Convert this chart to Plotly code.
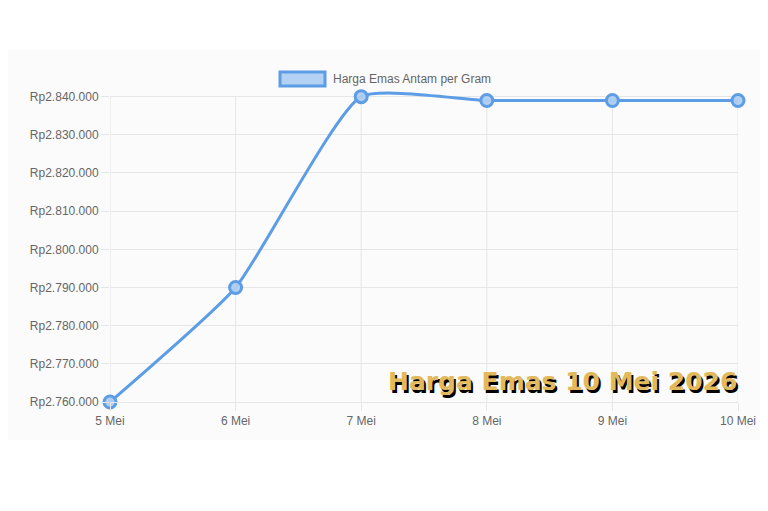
import plotly.graph_objects as go

dates = ["5 Mei", "6 Mei", "7 Mei", "8 Mei", "9 Mei", "10 Mei"]
prices = [2760000, 2790000, 2840000, 2839000, 2839000, 2839000]
ytick_vals = [2760000, 2770000, 2780000, 2790000, 2800000, 2810000, 2820000, 2830000, 2840000]
ytick_text = ["Rp" + f"{v:,}".replace(",", ".") for v in ytick_vals]
series_name = "Harga Emas Antam per Gram"
title_text = "Harga Emas 10 Mei 2026"

OFF = 8  # page body margin
W, H = 768 - OFF, 511 - OFF
y_lo, y_hi = 2760000, 2842000
scale = 305 / 80000  # px per unit
ph = round((y_hi - y_lo) * scale)
L = 110 - OFF
R = 30
B = 109
T = H - B - ph
pw = W - L - R

def px(x):
    return (x - OFF - L) / pw

def py(y):
    return (H - B - (y - OFF)) / ph

blue = "#5c9de6"
grid = "#e6e6e6"

fig = go.Figure()
fig.add_trace(go.Scatter(
    x=dates, y=prices, mode="lines+markers", name=series_name,
    line=dict(color=blue, width=3, shape="spline", smoothing=0.5),
    marker=dict(size=12, color="rgba(175,205,240,0.95)", line=dict(color=blue, width=3)),
    cliponaxis=False, showlegend=False,
))

font_axis = dict(family="Liberation Sans, Arial", size=12, color="#666666")

shapes = [
    dict(type="rect", xref="paper", yref="paper", layer="below",
         x0=px(0), x1=px(768), y0=py(50), y1=py(440),
         fillcolor="#fbfbfb", line=dict(width=0)),
]
for d in dates:
    shapes.append(dict(type="line", xref="x", yref="paper", layer="below",
                       x0=d, x1=d, y0=0, y1=py(97), line=dict(color=grid, width=1)))
shapes.append(dict(type="rect", xref="paper", yref="paper",
                   x0=px(280), x1=px(325), y0=py(86), y1=py(72),
                   fillcolor="rgba(92,157,230,0.45)", line=dict(color=blue, width=3)))

fig.update_layout(
    width=W, height=H,
    margin=dict(l=L, r=R, t=T, b=B),
    paper_bgcolor="white", plot_bgcolor="rgba(0,0,0,0)",
    xaxis=dict(type="category", range=[0, 5], showgrid=False,
               ticks="outside", ticklen=8, tickcolor=grid, tickfont=font_axis,
               showline=True, linecolor=grid, zeroline=False),
    yaxis=dict(range=[y_lo, y_hi], tickvals=ytick_vals, ticktext=ytick_text,
               showgrid=True, gridcolor=grid, ticks="outside", ticklen=8,
               tickcolor=grid, tickfont=font_axis, showline=False,
               zeroline=False),
    shapes=shapes,
    annotations=[
        dict(text=series_name, xref="paper", yref="paper", x=px(331), y=py(79),
             xanchor="left", yanchor="middle", showarrow=False,
             font=dict(family="Liberation Sans, Arial", size=12, color="#666666")),
        dict(text=title_text, xref="paper", yref="paper", x=px(562), y=py(381),
             xanchor="center", yanchor="middle", showarrow=False,
             font=dict(family="DejaVu Sans", size=25, color="#e2b95c", weight="bold",
                       shadow="2px 3px 0px #000000")),
    ],
)

fig.write_html("out.html")
